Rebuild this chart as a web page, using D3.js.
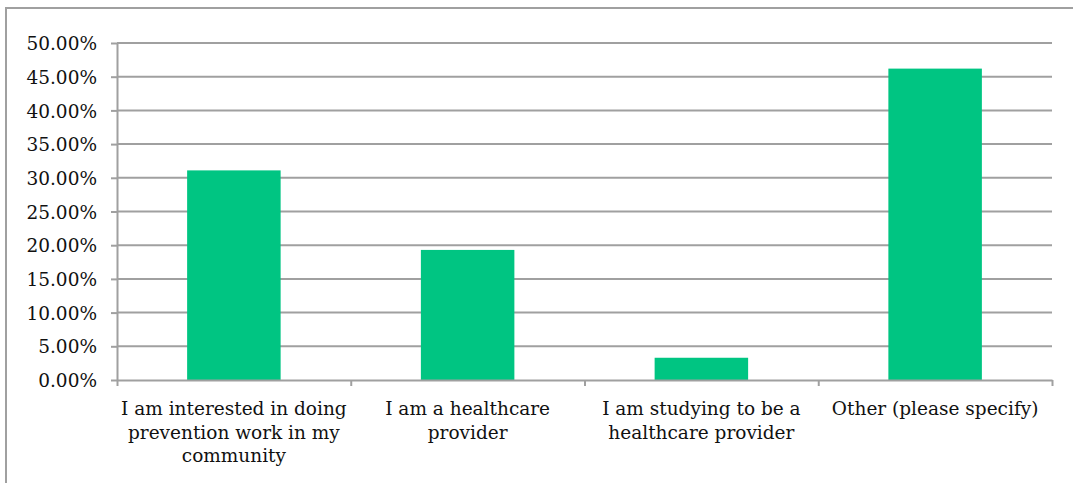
<!DOCTYPE html>
<html lang="en">
<head>
    <meta charset="utf-8">
    <title>Respondent role</title>
    <style>
        body {
            margin: 0;
            background: #fff;
        }
        .chart text {
            font-family: "DejaVu Serif", serif;
            font-size: 18.5px;
            fill: #111;
        }
        .grid line {
            stroke: #a0a0a0;
            stroke-width: 2px;
        }
        .axis path, .axis line {
            stroke: #a0a0a0;
            stroke-width: 2px;
        }
    </style>
</head>
<body>
<svg class="chart"></svg>
<script src="https://d3js.org/d3.v7.min.js"></script>
<script>
    const chartWidth = 1073;
    const chartHeight = 483;
    const margin = {top: 43, right: 21, bottom: 103, left: 117};
    const width = chartWidth - margin.left - margin.right;
    const height = chartHeight - margin.top - margin.bottom;

    // data
    const categories = [
        "I am interested in doing prevention work in my community",
        "I am a healthcare provider",
        "I am studying to be a healthcare provider",
        "Other (please specify)"
    ];
    const values = [31.1, 19.3, 3.3, 46.2];
    const labelLines = [
        ["I am interested in doing", "prevention work in my", "community"],
        ["I am a healthcare", "provider"],
        ["I am studying to be a", "healthcare provider"],
        ["Other (please specify)"]
    ];
    const yTicks = [0, 5, 10, 15, 20, 25, 30, 35, 40, 45, 50];

    var svg = d3.select("svg").attr("width", chartWidth).attr("height", chartHeight);

    // outer frame
    svg.append("rect")
        .attr("x", 6).attr("y", 8)
        .attr("width", chartWidth + 10).attr("height", chartHeight + 10)
        .attr("fill", "none")
        .attr("stroke", "#a0a0a0")
        .attr("stroke-width", 2);

    var g = svg.append("g").attr("transform", "translate(" + margin.left + "," + margin.top + ")");

    var x = d3.scaleBand().domain(categories).range([0, width]).paddingInner(0.6).paddingOuter(0.3);
    var xEdge = d3.scaleLinear().domain([0, categories.length]).range([0, width]);
    var y = d3.scaleLinear().domain([0, 50]).range([height, 0]);

    // gridlines
    g.append("g")
        .attr("class", "grid")
        .selectAll("line")
        .data(yTicks.slice(1))
        .enter()
        .append("line")
        .attr("x1", 0)
        .attr("x2", width)
        .attr("y1", d => y(d))
        .attr("y2", d => y(d));

    // y axis
    var yAxis = g.append("g")
        .attr("class", "axis axis--y")
        .call(d3.axisLeft(y).tickValues(yTicks).tickSize(6).tickSizeOuter(0)
            .tickFormat(d => d.toFixed(2) + "%"));
    yAxis.selectAll("text").attr("x", -20).attr("dy", "0.36em");

    //bars
    g.selectAll(".bar")
        .data(values)
        .enter()
        .append("rect")
        .attr("class", "bar")
        .attr("x", (d, i) => x(categories[i]))
        .attr("y", d => y(d))
        .attr("width", x.bandwidth())
        .attr("height", d => height - y(d))
        .attr("fill", "#00c582");

    // x axis with ticks between categories
    var xAxis = g.append("g")
        .attr("class", "axis axis--x")
        .attr("transform", "translate(0," + height + ")")
        .call(d3.axisBottom(xEdge).tickValues(d3.range(categories.length + 1)).tickSize(6).tickSizeOuter(0).tickFormat(""));

    // category labels
    var lab = g.append("g")
        .selectAll("text")
        .data(labelLines)
        .enter()
        .append("text")
        .attr("text-anchor", "middle")
        .attr("transform", (d, i) => "translate(" + (x(categories[i]) + x.bandwidth() / 2) + "," + (height + 35) + ")");
    lab.selectAll("tspan")
        .data(d => d)
        .enter()
        .append("tspan")
        .attr("x", 0)
        .attr("dy", (d, i) => i === 0 ? 0 : 23.5)
        .text(d => d);
</script>
</body>
</html>
